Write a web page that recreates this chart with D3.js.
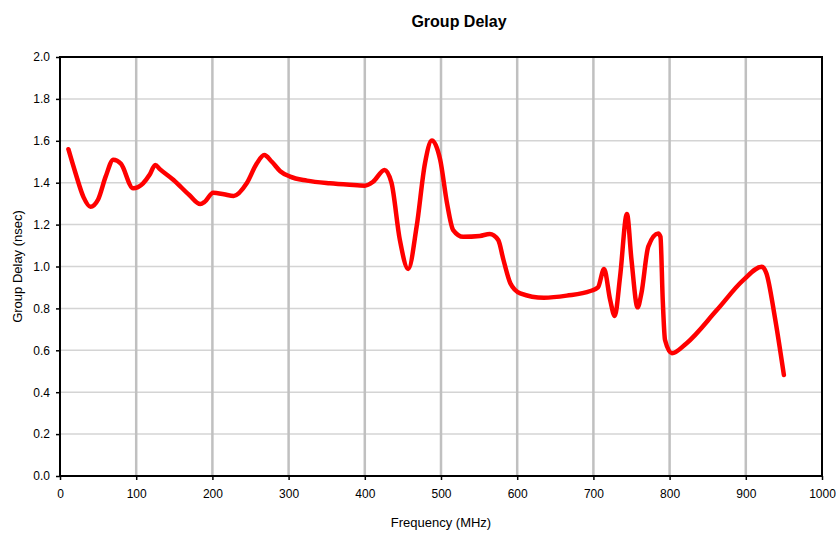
<!DOCTYPE html>
<html>
<head>
<meta charset="utf-8">
<script src="https://cdn.jsdelivr.net/npm/d3@7"></script>
<style>
  body { margin: 0; background: #fff; }
  text { font-family: Arial, "Liberation Sans", sans-serif; }
</style>
</head>
<body>
<div id="chart"></div>
<script>
// data (MHz, nsec)
var freq = [11, 20, 31, 40, 50, 60, 70, 80, 96, 109, 118, 125, 131, 149, 170, 184, 190, 201, 215, 228, 245, 258, 268, 278, 289, 302, 324, 354, 380, 400, 411, 426, 435, 446, 457, 468, 479, 488, 499, 508, 516, 529, 551, 564, 575, 582, 591, 604, 635, 665, 696, 706, 714, 722, 728, 735, 744, 750, 758, 763, 772, 785, 788, 791, 794, 803, 822, 862, 897, 921, 927, 938, 950];
var delay = [1.56, 1.45, 1.33, 1.285, 1.32, 1.43, 1.51, 1.49, 1.373, 1.397, 1.44, 1.485, 1.465, 1.413, 1.34, 1.298, 1.309, 1.352, 1.345, 1.337, 1.397, 1.49, 1.532, 1.50, 1.455, 1.429, 1.41, 1.397, 1.39, 1.386, 1.405, 1.461, 1.40, 1.127, 0.988, 1.19, 1.493, 1.601, 1.508, 1.30, 1.174, 1.142, 1.146, 1.155, 1.127, 1.031, 0.92, 0.872, 0.851, 0.861, 0.883, 0.90, 0.988, 0.84, 0.764, 0.951, 1.251, 1.031, 0.805, 0.872, 1.095, 1.158, 1.142, 0.84, 0.649, 0.586, 0.633, 0.792, 0.936, 0.999, 0.968, 0.761, 0.482];
var xTicks = [0, 100, 200, 300, 400, 500, 600, 700, 800, 900, 1000];
var yTicks = [0, 0.2, 0.4, 0.6, 0.8, 1.0, 1.2, 1.4, 1.6, 1.8, 2.0];

var width = 836, height = 533;
var margin = {left: 60, right: 14, top: 57, bottom: 57};

var svg = d3.select("#chart").append("svg")
  .attr("width", width)
  .attr("height", height);

var x = d3.scaleLinear().domain([0, 1000]).range([margin.left, width - margin.right]);
var y = d3.scaleLinear().domain([0, 2]).range([height - margin.bottom, margin.top]);

// horizontal grid (light)
svg.append("g").selectAll("line")
  .data(yTicks.slice(1, -1))
  .enter().append("line")
    .attr("x1", x(0)).attr("x2", x(1000))
    .attr("y1", d => y(d)).attr("y2", d => y(d))
    .attr("stroke", "#d4d4d4")
    .attr("stroke-width", 1.5);

// vertical grid (darker, thicker)
svg.append("g").selectAll("line")
  .data(xTicks.slice(1, -1))
  .enter().append("line")
    .attr("x1", d => x(d)).attr("x2", d => x(d))
    .attr("y1", y(0)).attr("y2", y(2))
    .attr("stroke", "#c0c0c0")
    .attr("stroke-width", 2.5);

// axes
var xAxis = svg.append("g")
  .attr("transform", `translate(0,${y(0)})`)
  .call(d3.axisBottom(x).tickValues(xTicks).tickSize(4).tickPadding(9).tickFormat(d3.format("d")));
var yAxis = svg.append("g")
  .attr("transform", `translate(${x(0)},0)`)
  .call(d3.axisLeft(y).tickValues(yTicks).tickSize(4).tickPadding(6).tickFormat(d3.format(".1f")));

[xAxis, yAxis].forEach(function (a) {
  a.select(".domain").remove();
  a.selectAll(".tick line").attr("stroke", "#000").attr("stroke-width", 1.5);
  a.selectAll(".tick text").style("font-size", "12px").attr("fill", "#000");
});

// border box
svg.append("rect")
  .attr("x", x(0)).attr("y", y(2))
  .attr("width", x(1000) - x(0)).attr("height", y(0) - y(2))
  .attr("fill", "none")
  .attr("stroke", "#000")
  .attr("stroke-width", 2);

// curve
var pts = freq.map((f, i) => [f, delay[i]]);
var line = d3.line()
  .x(d => x(d[0]))
  .y(d => y(d[1]))
  .curve(d3.curveMonotoneX);

svg.append("path")
  .datum(pts)
  .attr("d", line)
  .attr("fill", "none")
  .attr("stroke", "#ff0000")
  .attr("stroke-width", 4.5)
  .attr("stroke-linejoin", "round")
  .attr("stroke-linecap", "round");

// titles
svg.append("text")
  .attr("x", 459).attr("y", 27)
  .attr("text-anchor", "middle")
  .style("font-size", "16px")
  .style("font-weight", "bold")
  .text("Group Delay");

svg.append("text")
  .attr("x", x(500)).attr("y", 527)
  .attr("text-anchor", "middle")
  .style("font-size", "13px")
  .text("Frequency (MHz)");

svg.append("text")
  .attr("transform", `translate(22,${(y(0) + y(2)) / 2}) rotate(-90)`)
  .attr("text-anchor", "middle")
  .style("font-size", "13px")
  .text("Group Delay (nsec)");
</script>
</body>
</html>
